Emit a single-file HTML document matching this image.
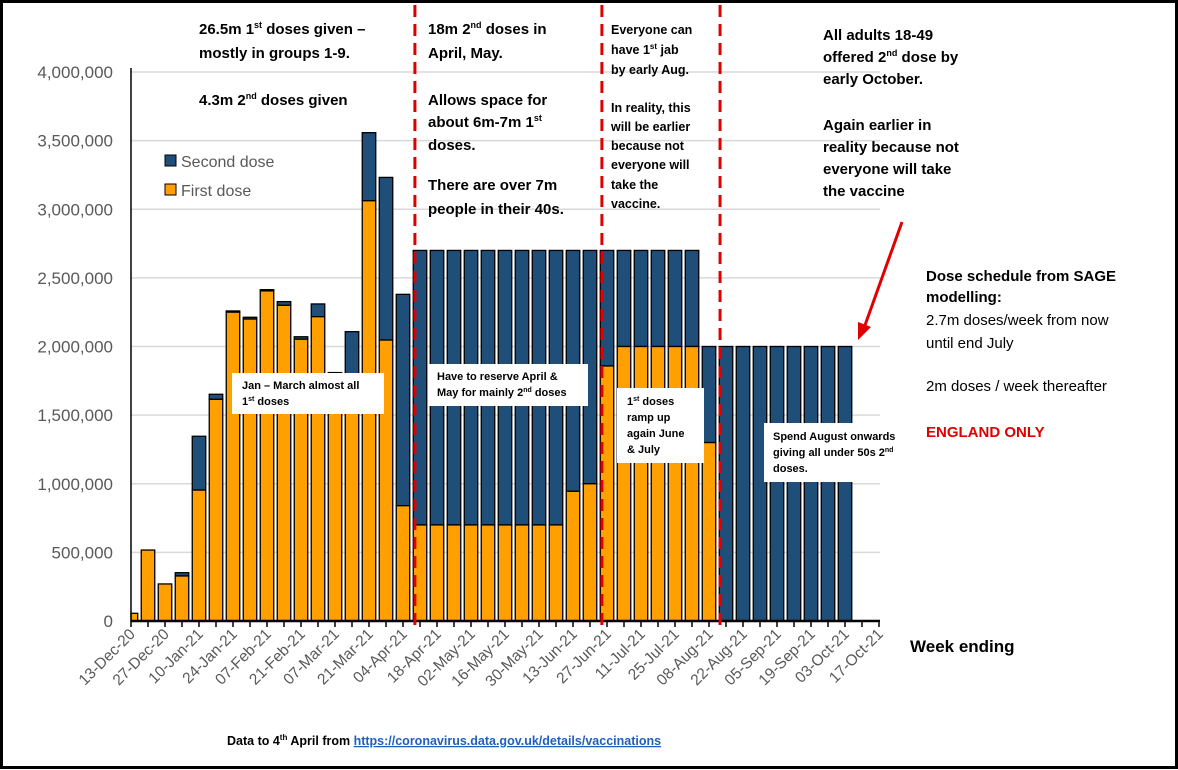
<!DOCTYPE html>
<html><head><meta charset="utf-8"><style>
html,body{margin:0;padding:0;background:#fff}
svg{display:block;font-family:"Liberation Sans",sans-serif}
.a{font-weight:bold;fill:#000}
</style></head><body>
<svg width="1178" height="770" viewBox="0 0 1178 770">
<rect x="1.5" y="1.5" width="1175" height="766" fill="#fff" stroke="#000" stroke-width="3"/>
<g id="grid"></g>
<g id="bars"></g>
<g id="axes"></g>
<g id="vlines"></g>
<g>
<rect x="165" y="155" width="11" height="11" fill="#1f4e79" stroke="#000"/>
<text x="181" y="167" font-size="16" fill="#595959">Second dose</text>
<rect x="165" y="184" width="11" height="11" fill="#ffa000" stroke="#000"/>
<text x="181" y="196" font-size="16" fill="#595959">First dose</text>
</g>
<g class="a" font-size="15">
<text x="199" y="34">26.5m 1<tspan font-size="9" dy="-6">st</tspan><tspan dy="6"> doses given –</tspan></text>
<text x="199" y="58">mostly in groups 1-9.</text>
<text x="199" y="105">4.3m 2<tspan font-size="9" dy="-6">nd</tspan><tspan dy="6"> doses given</tspan></text>
</g>
<g class="a" font-size="15">
<text x="428" y="34">18m 2<tspan font-size="9" dy="-6">nd</tspan><tspan dy="6"> doses in</tspan></text>
<text x="428" y="58">April, May.</text>
<text x="428" y="105">Allows space for</text>
<text x="428" y="127">about 6m-7m 1<tspan font-size="9" dy="-6">st</tspan></text>
<text x="428" y="150">doses.</text>
<text x="428" y="190">There are over 7m</text>
<text x="428" y="214">people in their 40s.</text>
</g>
<g class="a" font-size="12.5">
<text x="611" y="34">Everyone can</text>
<text x="611" y="54">have 1<tspan font-size="8" dy="-5">st</tspan><tspan dy="5"> jab</tspan></text>
<text x="611" y="74">by early Aug.</text>
<text x="611" y="112">In reality, this</text>
<text x="611" y="131">will be earlier</text>
<text x="611" y="150">because not</text>
<text x="611" y="169">everyone will</text>
<text x="611" y="189">take the</text>
<text x="611" y="208">vaccine.</text>
</g>
<g class="a" font-size="15">
<text x="823" y="40">All adults 18-49</text>
<text x="823" y="62">offered 2<tspan font-size="9" dy="-6">nd</tspan><tspan dy="6"> dose by</tspan></text>
<text x="823" y="84">early October.</text>
<text x="823" y="130">Again earlier in</text>
<text x="823" y="152">reality because not</text>
<text x="823" y="174">everyone will take</text>
<text x="823" y="196">the vaccine</text>
</g>
<g font-size="15">
<text x="926" y="281" class="a">Dose schedule from SAGE</text>
<text x="926" y="302" class="a">modelling:</text>
<text x="926" y="325">2.7m doses/week from now</text>
<text x="926" y="348">until end July</text>
<text x="926" y="391">2m doses / week thereafter</text>
<text x="926" y="437" class="a" fill="#e00000" style="fill:#e00000">ENGLAND ONLY</text>
</g>
<g>
<line x1="902" y1="222" x2="864" y2="328" stroke="#e00000" stroke-width="3"/>
<polygon points="858,340 858,322 871,327" fill="#e00000"/>
</g>
<g>
<rect x="232" y="373" width="152" height="41" fill="#fff"/>
<text x="242" y="389" font-size="11" class="a">Jan – March almost all</text>
<text x="242" y="405" font-size="11" class="a">1<tspan font-size="7" dy="-4">st</tspan><tspan dy="4"> doses</tspan></text>
</g>
<g>
<rect x="428" y="364" width="160" height="42" fill="#fff"/>
<text x="437" y="380" font-size="11" class="a">Have to reserve April  &amp;</text>
<text x="437" y="396" font-size="11" class="a">May for mainly  2<tspan font-size="7" dy="-4">nd</tspan><tspan dy="4"> doses</tspan></text>
</g>
<g>
<rect x="617" y="388" width="87" height="75" fill="#fff"/>
<text x="627" y="405" font-size="11" class="a">1<tspan font-size="7" dy="-4">st</tspan><tspan dy="4"> doses</tspan></text>
<text x="627" y="421" font-size="11" class="a">ramp up</text>
<text x="627" y="437" font-size="11" class="a">again June</text>
<text x="627" y="453" font-size="11" class="a">&amp;  July</text>
</g>
<g>
<rect x="764" y="423" width="140" height="59" fill="#fff"/>
<text x="773" y="440" font-size="11" class="a">Spend August onwards</text>
<text x="773" y="456" font-size="11" class="a">giving  all under 50s 2<tspan font-size="7" dy="-4">nd</tspan></text>
<text x="773" y="472" font-size="11" class="a">doses.</text>
</g>
<text x="910" y="652" font-size="17" class="a">Week ending</text>
<text x="227" y="745" font-size="12.5" class="a">Data to 4<tspan font-size="8" dy="-5">th</tspan><tspan dy="5"> April from </tspan><tspan fill="#1f5fbf" text-decoration="underline" style="fill:#1f5fbf">https://coronavirus.data.gov.uk/details/vaccinations</tspan></text>
</svg>
<script>
const firstDose=[56000,517000,270000,328000,954000,1615000,2250000,2200000,2405000,2300000,2053000,2217000,1800000,1560000,3062000,2047000,840000,700000,700000,700000,700000,700000,700000,700000,700000,700000,945000,1000000,1858000,2000000,2000000,2000000,2000000,2000000,1300000,0,0,0,0,0,0,0,0];
const totalDose=[56000,517000,270000,352000,1346000,1652000,2259000,2213000,2414000,2327000,2071000,2310000,1810000,2108000,3558000,3232000,2380000,2700000,2700000,2700000,2700000,2700000,2700000,2700000,2700000,2700000,2700000,2700000,2700000,2700000,2700000,2700000,2700000,2700000,2000000,2000000,2000000,2000000,2000000,2000000,2000000,2000000,2000000];
const yTicks=[0,500000,1000000,1500000,2000000,2500000,3000000,3500000,4000000];
const xLabels=["13-Dec-20","27-Dec-20","10-Jan-21","24-Jan-21","07-Feb-21","21-Feb-21","07-Mar-21","21-Mar-21","04-Apr-21","18-Apr-21","02-May-21","16-May-21","30-May-21","13-Jun-21","27-Jun-21","11-Jul-21","25-Jul-21","08-Aug-21","22-Aug-21","05-Sep-21","19-Sep-21","03-Oct-21","17-Oct-21"];
const dividerWeeks=[16.7,27.7,34.65];
const NS="http://www.w3.org/2000/svg";
const X0=131,STEP=17,Y0=621,YMAX=4000000,YH=549;
function xs(i){return X0+STEP*i;}
function ys(v){return Y0-v/YMAX*YH;}
function mk(t,a,p){const e=document.createElementNS(NS,t);for(const k in a)e.setAttribute(k,a[k]);p.appendChild(e);return e;}
const grid=document.getElementById('grid'),bars=document.getElementById('bars'),axes=document.getElementById('axes'),vl=document.getElementById('vlines');
yTicks.forEach(v=>{
  if(v>0){const g=mk('line',{x1:X0,x2:880,y1:ys(v),y2:ys(v),stroke:'#d9d9d9','stroke-width':1.5},grid);
  
  }
  const t=mk('text',{x:113,y:ys(v)+6,'text-anchor':'end','font-size':17,fill:'#595959'},axes);
  t.textContent=v.toLocaleString('en-US');
  
  
});
const BW=13.5;
totalDose.forEach((tot,i)=>{
  const cx=xs(i);let l=cx-BW/2,w=BW;if(l<X0){w-=X0-l;l=X0;}
  const f=firstDose[i];
  if(tot>f){const r=mk('rect',{x:l,y:ys(tot),width:w,height:ys(f)-ys(tot),fill:'#1f4e79',stroke:'#000','stroke-width':1.3},bars);
  
  }
  if(f>0){const r=mk('rect',{x:l,y:ys(f),width:w,height:Y0-ys(f),fill:'#ffa000',stroke:'#000','stroke-width':1.3},bars);
  
  }
});
const ax=mk('line',{x1:X0,x2:880,y1:Y0,y2:Y0,stroke:'#000','stroke-width':2.5},axes);


const ay=mk('line',{x1:X0,x2:X0,y1:Y0,y2:68,stroke:'#000','stroke-width':1.5},axes);


for(let i=0;i<=44;i++){const t=mk('line',{x1:xs(i),x2:xs(i),y1:Y0,y2:Y0+6,stroke:'#000','stroke-width':1.5},axes);

}
xLabels.forEach((s,k)=>{const x=xs(2*k)+5,y=Y0+14;
  const t=mk('text',{x:x,y:y,'text-anchor':'end','font-size':15.5,fill:'#595959',transform:`rotate(-45 ${x} ${y})`},axes);
  t.textContent=s;
  
  });
dividerWeeks.forEach(w=>{const l=mk('line',{x1:xs(w),x2:xs(w),y1:5,y2:625,stroke:'#e00000','stroke-width':3,'stroke-dasharray':'12 7'},vl);

});
</script>
</body></html>
